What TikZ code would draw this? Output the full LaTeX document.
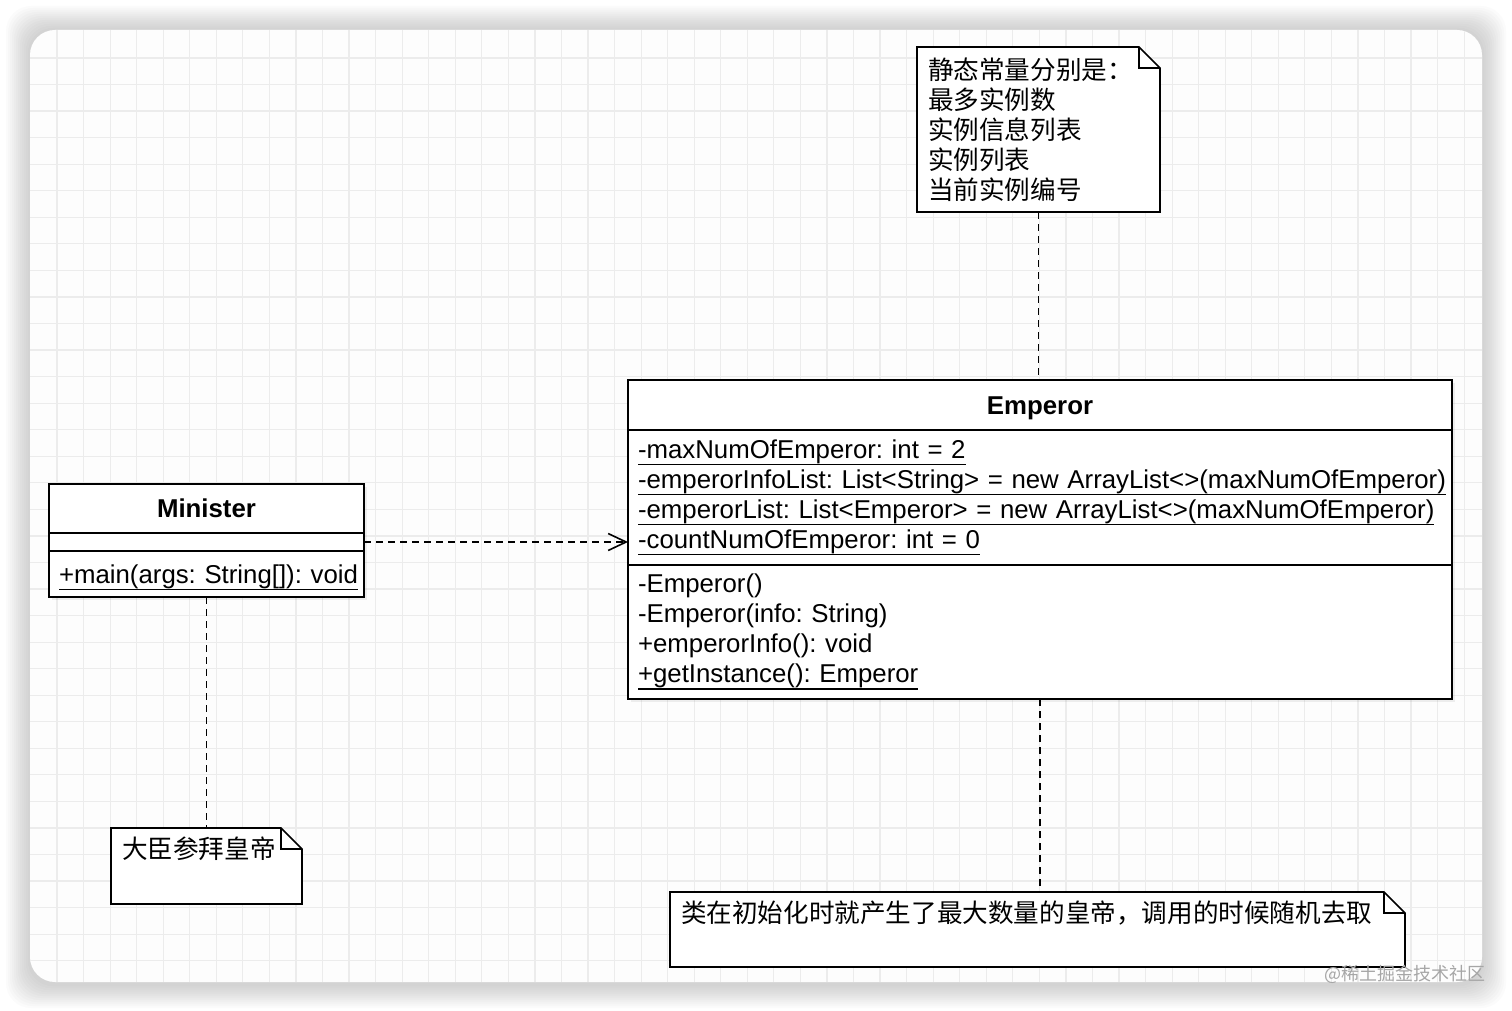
\documentclass[tikz,border=0pt]{standalone}
\usepackage{fontspec}
\setmainfont{Liberation Sans}
\newfontfamily\cjk{Noto Sans CJK SC}
\usetikzlibrary{arrows.meta,positioning,calc,shadows,backgrounds}
\definecolor{gridgrey}{HTML}{ECECEC}
\definecolor{cardbg}{HTML}{FDFDFD}
\definecolor{markgrey}{HTML}{A6A6A6}
\newcommand{\ulined}[1]{\leavevmode\setbox0\hbox{#1}\rlap{\usebox0}\rule[-7pt]{\wd0}{1.5pt}}
\newcommand{\dogear}[1]{%
  \draw[line width=1.7pt,fill=white] (#1.north west) -- ([xshift=-21pt]#1.north east)
    -- ([yshift=-21pt]#1.north east) -- (#1.south east) -- (#1.south west) -- cycle;
  \draw[line width=1.7pt] ([xshift=-21pt]#1.north east) -- ([xshift=-21pt,yshift=-21pt]#1.north east)
    -- ([yshift=-21pt]#1.north east);}

\begin{document}
\frenchspacing
\begin{tikzpicture}[x=1pt,y=-1pt,font=\fontsize{25.8}{30}\selectfont,
  umlhead/.style={draw,line width=1.7pt,fill=white,outer sep=0pt,inner sep=0pt,anchor=north west,
    font=\fontsize{25.8}{30}\selectfont\bfseries,text height=18.5pt,text depth=0pt,
    drop shadow={shadow xshift=3pt,shadow yshift=-3pt,opacity=0.12}},
  umlpart/.style={draw,line width=1.7pt,fill=white,outer sep=0pt,align=left,inner xsep=10pt,inner ysep=0pt,
    drop shadow={shadow xshift=3pt,shadow yshift=-3pt,opacity=0.12}},
  notebox/.style={inner xsep=11pt,inner ysep=0pt,outer sep=0pt,anchor=north west,align=left,
    font=\cjk\fontsize{25.6}{30}\selectfont},
  dep/.style={line width=1.6pt,dash pattern=on 7pt off 5pt}]
  \useasboundingbox (0,0) rectangle (1512,1011);
  % card, shadow and grid
  \begin{scope}[on background layer]
    \foreach \s in {2,4,...,24}
      \fill[black,opacity=0.014,rounded corners=25pt] (30-\s,30-\s) rectangle (1482+\s,984+\s);
    \fill[cardbg,rounded corners=25pt] (30,30) rectangle (1482,982);
    \begin{scope}
      \clip[rounded corners=25pt] (30,30) rectangle (1482,982);
      \foreach \gx in {57,83.55,...,1482} \draw[gridgrey,line width=1.2pt] (\gx,30) -- (\gx,982);
      \foreach \gy in {58,84.55,...,982} \draw[gridgrey,line width=1.2pt] (30,\gy) -- (1482,\gy);
    \end{scope}
  \end{scope}

  % classes
  \node[umlhead,minimum width=824pt,minimum height=50pt] (emphead) at (628,380) {Emperor};
  \node[umlpart,text width=804pt,minimum height=135pt,below=0pt of emphead] (empattr) {%
    \ulined{-maxNumOfEmperor: int = 2}\\
    \ulined{-emperorInfoList: List<String> = new ArrayList<>(maxNumOfEmperor)}\\
    \ulined{-emperorList: List<Emperor> = new ArrayList<>(maxNumOfEmperor)}\\
    \ulined{-countNumOfEmperor: int = 0}};
  \node[umlpart,text width=804pt,minimum height=134pt,below=0pt of empattr] (empmeth) {%
    -Emperor()\\
    -Emperor(info: String)\\
    +emperorInfo(): void\\
    \ulined{+getInstance(): Emperor}};

  \node[umlhead,minimum width=315pt,minimum height=49pt] (minhead) at (49,484) {Minister};
  \node[umlpart,text width=295pt,minimum height=18pt,below=0pt of minhead] (minattr) {};
  \node[umlpart,text width=295pt,minimum height=46pt,text height=18.5pt,text depth=0pt,
    below=0pt of minattr] (minmeth) {\ulined{+main(args: String[]): void}};

  % notes
  \node[notebox,text width=221pt,minimum height=165pt] (notetop) at (917,47) {%
    静态常量分别是：\\最多实例数\\实例信息列表\\实例列表\\当前实例编号};
  \node[notebox,text width=169pt,text height=30pt,text depth=46pt] (notemin) at (111,828) {大臣参拜皇帝};
  \node[notebox,text width=713pt,text height=30pt,text depth=45pt] (noteemp) at (670,892) {%
    类在初始化时就产生了最大数量的皇帝，调用的时候随机去取};
  \begin{scope}[on background layer]
    \dogear{notetop}
    \dogear{notemin}
    \dogear{noteemp}
  \end{scope}

  % links
  \draw[dep] (notetop.south) -- (notetop.south |- emphead.north);
  \draw[dep,-{Straight Barb[length=18pt,width=17pt]}] (minattr.east) -- (minattr.east -| empattr.west);
  \draw[dep] (minmeth.south) -- (minmeth.south |- notemin.north);
  \draw[dep] (empmeth.south) -- (empmeth.south |- noteemp.north);

  \node[font=\cjk\fontsize{18}{20}\selectfont,text=markgrey,anchor=east,inner sep=0pt] (mark) at (1486,974) {@稀土掘金技术社区};
\end{tikzpicture}
\end{document}
